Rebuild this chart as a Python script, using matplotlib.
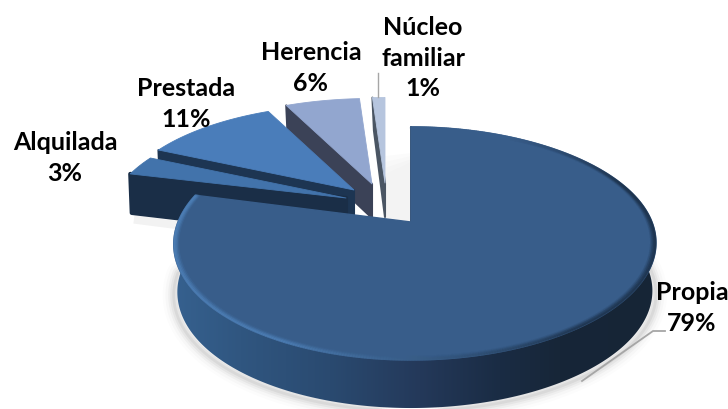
import numpy as np
import matplotlib
matplotlib.use("Agg")
import matplotlib.pyplot as plt
from matplotlib.patches import Polygon
from matplotlib.collections import LineCollection
from matplotlib.colors import LinearSegmentedColormap, to_rgb

# data
categories = ["Propia", "Alquilada", "Prestada", "Herencia", "Núcleo\nfamiliar"]
values = [79, 3, 11, 6, 1]

# style / layout (pixel space)
apex = [(411, 222), (346, 198), (354, 190), (372, 184), (385, 183)]
radial_scale = [1.0, 0.9, 0.9, 0.9, 0.9]
depth = [48, 40, 36, 34, 34]
top_colors = ["#385d8a", "#4273ab", "#4a7dba", "#92a6cf", "#b6c5de"]
wall_colors = ["#1c3148", "#1a2e47", "#1d3552", "#3b4257", "#4a5563"]
label_pos = [(692, 308), (65, 158), (186, 104), (311, 68), (423, 58)]
draw_order = [4, 3, 2, 1, 0]

fig = plt.figure(figsize=(7.28, 4.09), dpi=100)
ax = fig.add_axes([0, 0, 1, 1])
ax.set_xlim(0, 728)
ax.set_ylim(409, 0)
ax.axis("off")

K, B, A = 0.1845, 71.6, 237.0
pct = np.array(values, float)
edges = np.concatenate([[0], np.cumsum(pct) / pct.sum() * 2 * np.pi])


def proj(t, i, r=1.0, dz=0.0):
    """Project pie angle t (clockwise from top) to the picture for slice i."""
    X, Y = r * np.sin(t), r * np.cos(t)
    w = 1 + K * Y
    x = A * X / w + 4 * X ** 2
    y = ((222 - B * Y) / w - 222) * radial_scale[i]
    ax0, ay0 = apex[i]
    return ax0 + x, ay0 + y + dz


def gradient_fill(poly, xs, cols, z):
    cmap = LinearSegmentedColormap.from_list(
        "g", [((x - xs[0]) / (xs[-1] - xs[0]), c) for x, c in zip(xs, cols)])
    patch = Polygon(poly, closed=True, fc="none", ec="none", transform=ax.transData)
    ax.add_patch(patch)
    im = ax.imshow(np.linspace(0, 1, 256)[None, :], cmap=cmap, aspect="auto",
                   extent=[xs[0], xs[-1], 409, 0], zorder=z, interpolation="bilinear")
    im.set_clip_path(patch)
    ax.set_xlim(0, 728)
    ax.set_ylim(409, 0)


# soft shadow behind the near slices
tt = np.linspace(edges[0], edges[1], 300)
sx, sy = proj(tt, 0, dz=depth[0] + 3)
for lw, al in [(16, .012), (12, .02), (8, .03), (5, .04), (2, .05)]:
    ax.plot(sx[60:285], sy[60:285], color="k", lw=lw, alpha=al, zorder=1,
            solid_capstyle="round")
for w_, al in [(24, .008), (18, .01), (12, .012), (6, .015)]:
    ax.fill([411, 411 - w_, 385, 385, 411], [222, 222, 222, 150 + w_, 150 + w_ / 2],
            color="k", alpha=al, lw=0, zorder=1)
ax.plot([138, 185], [220, 226], color="k", lw=6, alpha=.05, zorder=1)

z = 2
for i in draw_order:
    t0, t1 = edges[i], edges[i + 1]
    ts = np.linspace(t0, t1, 300)
    rx, ry = proj(ts, i)
    ax0, ay0 = apex[i]
    top = np.column_stack([np.r_[ax0, rx], np.r_[ay0, ry]])
    d = depth[i]

    if i == 0:
        # outer wall of the large slice: visible on the front half of the rim
        front = np.linspace(np.pi * 0.42, np.pi * 1.58, 300)
        fx, fy = proj(front, 0)
        bx, by = proj(front, 0, dz=d)
        bx = 415 + (bx - 415) * 0.985
        wall = np.column_stack([np.r_[fx, bx[::-1]], np.r_[fy, by[::-1]]])
        gradient_fill(wall, [172, 240, 330, 420, 500, 560, 658],
                      ["#36618f", "#305680", "#2a4a70", "#24395a", "#1a2c44", "#172638", "#162536"], z)
        z += 1
        ax.plot([411, 411], [127, 222], color="#1b2f47", lw=1.2, zorder=z)
        ax.add_patch(Polygon(top, closed=True, fc=top_colors[0], ec=top_colors[0],
                             lw=1, joinstyle="round", zorder=z + 1))
        z += 2
        # soft bevel around the rim of the top face
        bt = np.linspace(t0, t1, 500)
        light, dark = np.array(to_rgb("#4f82ba")), np.array(to_rgb("#1c3048"))
        base = np.array(to_rgb(top_colors[0]))
        for r, alpha, lw in [(0.982, .08, 2), (0.988, .16, 2), (0.993, .28, 1.8), (0.998, .45, 1.5)]:
            px, py = proj(bt, 0, r=r)
            segs = np.stack([np.column_stack([px[:-1], py[:-1]]),
                             np.column_stack([px[1:], py[1:]])], axis=1)
            cols = []
            for tv in bt[:-1]:
                # dark on the right, light at the front left
                f = np.clip((tv - np.pi * 0.8) / (np.pi * 0.35), 0, 1)
                c = dark * (1 - f) + light * f
                fade = np.clip((tv - 0.5) / 0.7, 0, 1)
                cols.append((*(base * (1 - fade) + c * fade), alpha))
            lc = LineCollection(segs, colors=cols, linewidths=lw, zorder=z, capstyle="round")
            ax.add_collection(lc)
    else:
        cx, cy = proj(t0, i)
        wall = [(cx, cy), (ax0, ay0), (ax0, ay0 + d), (cx + 1.5, cy + d - 1)]
        ax.add_patch(Polygon(wall, closed=True, fc=wall_colors[i], ec=wall_colors[i],
                             lw=3 if i == 1 else 1.5, joinstyle="round", zorder=z))
        z += 1
        ax.add_patch(Polygon(top, closed=True, fc=top_colors[i], ec=top_colors[i],
                             lw=0.6, joinstyle="round", zorder=z))
    z += 1

# leader lines
ax.plot([582, 653, 665], [381, 331, 331], color="#a6a6a6", lw=1.3, zorder=z)
ax.plot([378, 378], [73, 97], color="#a6a6a6", lw=1.0, zorder=z)

# labels
for name, v, (lx, ly) in zip(categories, values, label_pos):
    ax.text(lx, ly, f"{name}\n{v}%", ha="center", va="center", family="Lato",
            fontweight="bold", fontsize=18, color="black", linespacing=1.38, zorder=z + 1)

fig.savefig("out.png", dpi=100)
